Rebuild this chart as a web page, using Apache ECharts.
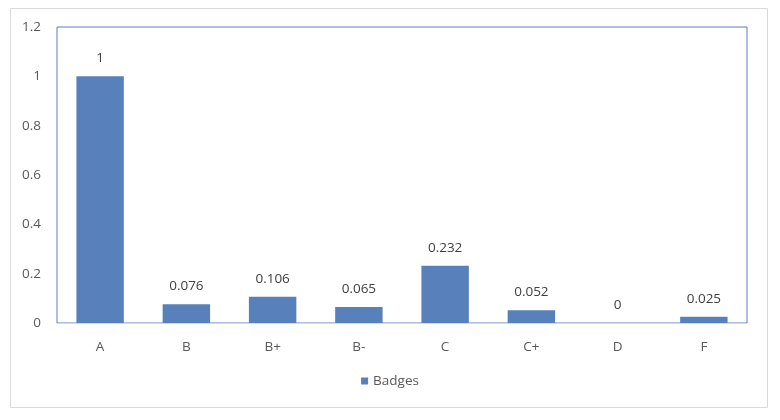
<!DOCTYPE html>
<html><head><meta charset="utf-8">
<script src="https://cdn.jsdelivr.net/npm/echarts@6/dist/echarts.min.js"></script>
<style>html,body{margin:0;padding:0;background:#fff}#c{width:780px;height:420px}</style>
</head><body><div id="c"></div>
<script>
var categories = ['A','B','B+','B-','C','C+','D','F'];
var badges = [1, 0.076, 0.106, 0.065, 0.232, 0.052, 0, 0.025];
var seriesName = 'Badges';
var yTicks = {min: 0, max: 1.2, interval: 0.2};

var chart = echarts.init(document.getElementById('c'), null, {renderer: 'canvas'});
var font = 'Open Sans, Liberation Sans, sans-serif';
chart.setOption({
  animation: false,
  backgroundColor: '#ffffff',
  graphic: [{
    type: 'rect', shape: {x: 10.5, y: 8.5, width: 757, height: 399},
    style: {fill: null, stroke: '#d9d9d9', lineWidth: 1}, z: -1
  }],
  grid: {left: 57, top: 27, right: 33, bottom: 97, show: true, borderColor: '#5a7fb8', borderWidth: 1},
  legend: {
    data: [seriesName], bottom: 27, left: 'center', itemWidth: 7, itemHeight: 7, icon: 'rect',
    textStyle: {color: '#595959', fontSize: 13.5, fontFamily: font}
  },
  xAxis: {
    type: 'category', data: categories,
    axisLine: {show: true, lineStyle: {color: '#d9d9d9', width: 1}},
    axisTick: {show: false},
    axisLabel: {color: '#595959', fontSize: 13.5, fontFamily: font, margin: 17}
  },
  yAxis: {
    type: 'value', min: yTicks.min, max: yTicks.max, interval: yTicks.interval,
    splitLine: {show: false},
    axisLine: {show: false}, axisTick: {show: false},
    axisLabel: {color: '#595959', fontSize: 13.5, fontFamily: font, margin: 16,
      formatter: function (v) { return String(+v.toFixed(1)); }}
  },
  series: [{
    name: seriesName, type: 'bar', data: badges, barCategoryGap: '45%',
    itemStyle: {color: '#5880bb'},
    label: {show: true, position: 'top', distance: 11, color: '#404040', fontSize: 13.5, fontFamily: font}
  }]
});
</script></body></html>
